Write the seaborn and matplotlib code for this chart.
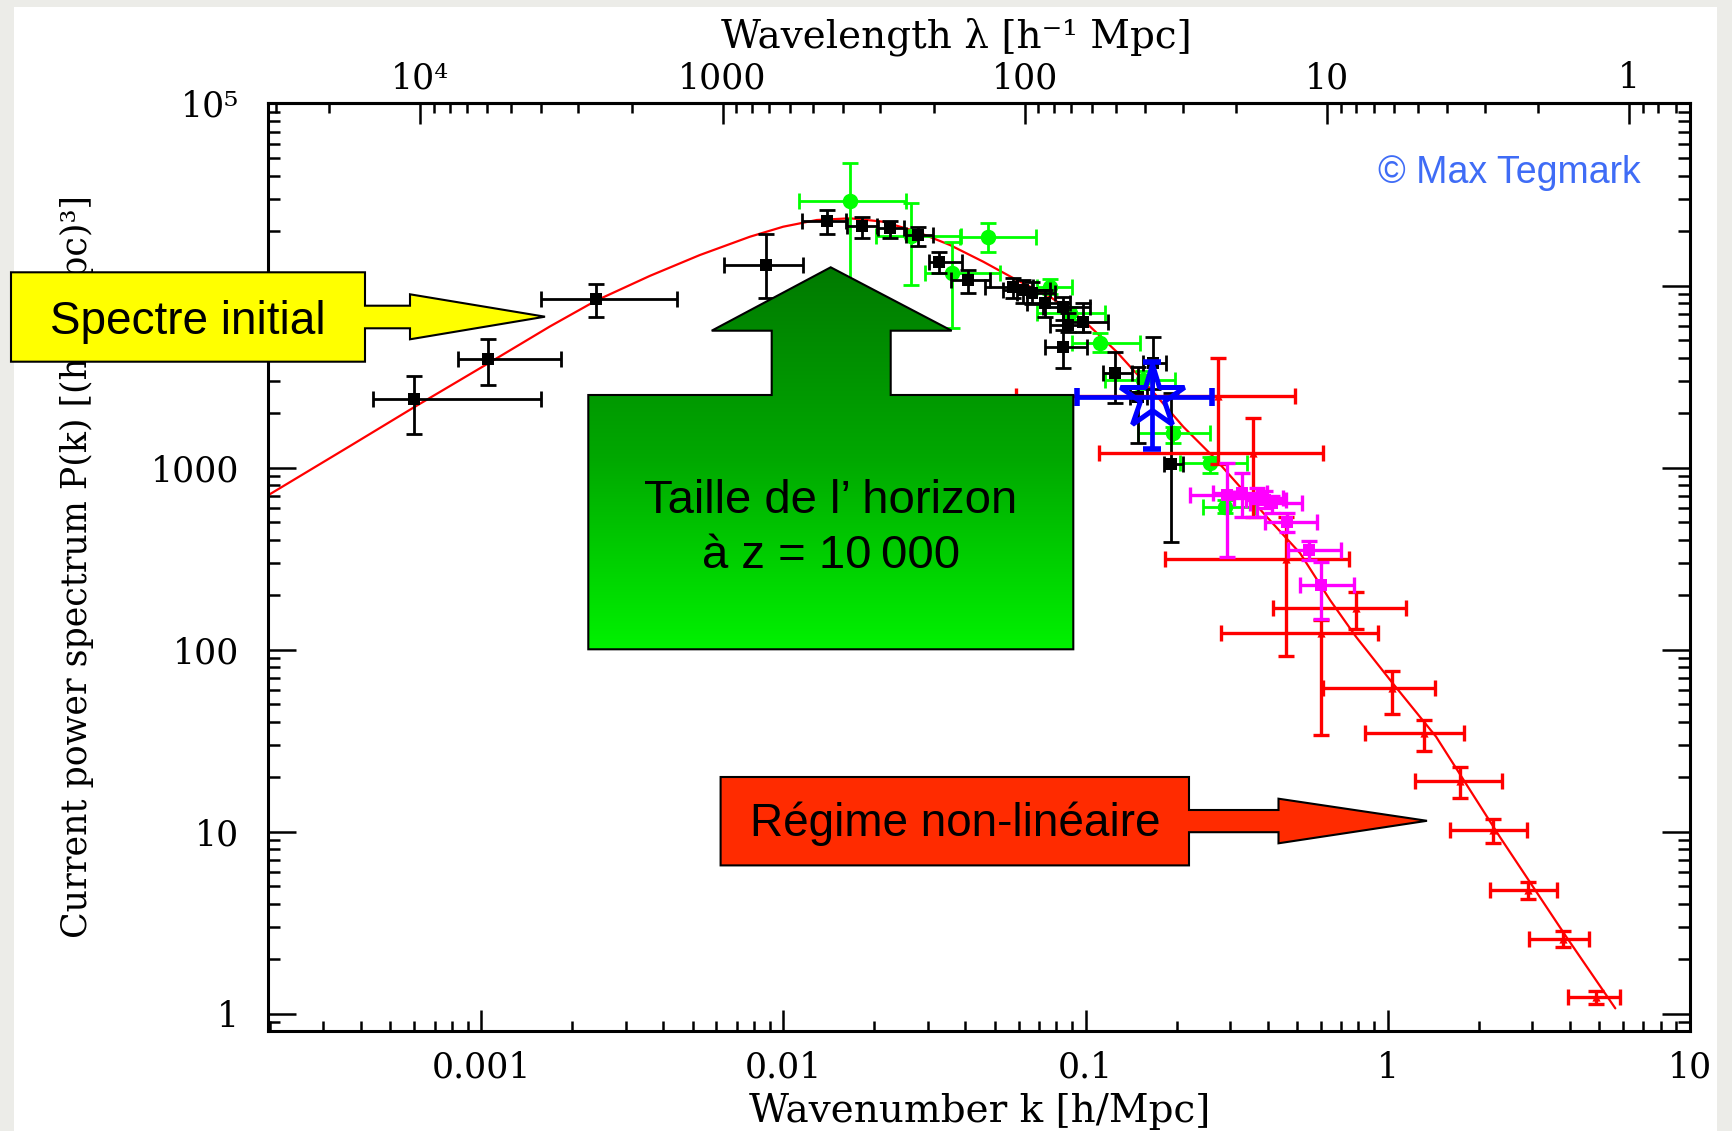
import numpy as np
import pandas as pd
import matplotlib
matplotlib.use("Agg")
import matplotlib.pyplot as plt
import seaborn as sns
from matplotlib.ticker import LogLocator, FixedLocator, FixedFormatter, NullFormatter
from matplotlib.patches import Polygon, Rectangle
from matplotlib.colors import LinearSegmentedColormap

# ---------------- data ----------------
model_k = [1.968e-4, 3.673e-4, 5.977e-4, 1.054e-3, 1.687e-3, 2.393e-3, 3.614e-3, 5.284e-3,
           7.745e-3, 9.977e-3, 0.01288, 0.0166, 0.02138, 0.02761, 0.03556, 0.04581, 0.05916,
           0.07621, 0.09817, 0.1266, 0.1633, 0.2104, 0.2646, 0.3243, 0.3972, 0.5129, 0.6442,
           0.7852, 1.039, 1.445, 2.348, 3.899, 5.665]
model_P = [704, 1312, 2140, 3736, 5960, 8250, 11300, 14700, 18540, 21040, 22900, 23400, 22420,
           19760, 16690, 13520, 10720, 8680, 6460, 4330, 2724, 1676, 1146, 784, 537, 338, 187,
           117.5, 65.2, 33.2, 9.36, 2.64, 1.068]

black_k = [5.98e-4, 1.053e-3, 2.39e-3, 8.74e-3, 0.01395, 0.01822, 0.0225, 0.0278, 0.03269,
           0.04088, 0.0576, 0.0621, 0.0663, 0.0733, 0.0843, 0.0876, 0.0982, 0.0843, 0.1251,
           0.1493, 0.1674, 0.1915]
black_P = [2371, 3931, 8433, 12970, 22700, 21230, 20620, 18880, 13520, 10720, 9850, 9440, 9060,
           7980, 7650, 6070, 6330, 4610, 3294, 2450, 3737, 1041]
black_k_lo = [4.39e-4, 8.38e-4, 1.58e-3, 6.35e-3, 0.01148, 0.01618, 0.02057, 0.02542, 0.03036,
              0.0358, 0.0464, 0.0532, 0.0591, 0.0638, 0.0725, 0.0762, 0.0843, 0.0733, 0.1143,
              0.140, 0.155, 0.182]
black_k_hi = [1.57e-3, 1.83e-3, 4.45e-3, 1.16e-2, 0.01605, 0.02033, 0.02504, 0.03118, 0.03904,
              0.04819, 0.0671, 0.0762, 0.0791, 0.0888, 0.1033, 0.0982, 0.1188, 0.1008, 0.142,
              0.160, 0.185, 0.210]
black_P_lo = [1528, 2840, 6740, 8500, 19100, 18320, 18170, 16480, 11670, 9130, 8510, 7980, 7900,
              6740, 6460, 5570, 5570, 3510, 2254, 1358, 2690, 391]
black_P_hi = [3184, 5063, 10230, 19100, 26000, 23880, 22700, 21040, 15210, 12170, 10960, 10720,
              10400, 9440, 8680, 7030, 7980, 5690, 4330, 3580, 5190, 2560]

green_k = [0.0166, 0.02641, 0.0476, 0.0360, 0.0762, 0.0887, 0.1115, 0.1551, 0.1950, 0.2578, 0.29]
green_P = [29120, 18700, 18540, 11670, 9850, 7030, 4850, 3027, 1542, 1054, 609]
green_k_lo = [0.01127, 0.0202, 0.0384, 0.0294, 0.0689, 0.0689, 0.0899, 0.1159, 0.1493, 0.205, 0.2455]
green_k_hi = [0.02535, 0.0388, 0.0685, 0.0520, 0.0899, 0.1159, 0.1513, 0.1975, 0.2578, 0.341, 0.3597]
green_P_lo = [8000, 10070, 15340, 5820, 9000, 6500, 4330, 2700, 1358, 929, 560]
green_P_hi = [47300, 28300, 21980, 17400, 10800, 7600, 5460, 3400, 1676, 1146, 665]

red_k = [0.2749, 0.3588, 0.460, 0.7845, 0.601, 1.030, 1.318, 1.734, 2.224, 2.904, 3.81, 4.89]
red_P = [2480, 1197, 314, 169.7, 122.7, 61.2, 34.6, 19.0, 10.2, 4.77, 2.58, 1.237]
red_k_lo = [0.0587, 0.1109, 0.183, 0.4178, 0.2804, 0.609, 0.841, 1.235, 1.607, 2.179, 2.94, 3.96]
red_k_hi = [0.4933, 0.609, 0.7456, 1.149, 0.926, 1.433, 1.792, 2.397, 2.884, 3.64, 4.65, 5.87]
red_P_lo = [1050, 537, 92, 129.6, 33.9, 44.2, 27.8, 15.2, 8.61, 4.24, 2.33, 1.123]
red_P_hi = [3981, 1863, 537, 208, 146, 76.5, 41.0, 22.5, 11.67, 5.26, 2.84, 1.334]

mag_k = [0.2927, 0.3284, 0.368, 0.392, 0.413, 0.4627, 0.5497, 0.601]
mag_P = [706, 721, 677, 663, 635, 504, 352, 226]
mag_k_lo = [0.2215, 0.265, 0.31, 0.34, 0.35, 0.392, 0.469, 0.512]
mag_k_hi = [0.368, 0.398, 0.45, 0.46, 0.52, 0.5816, 0.698, 0.773]
mag_P_lo = [321, 537, 537, 600, 560, 444, 310, 146.5]
mag_P_hi = [1062, 929, 769, 740, 700, 560, 396, 303]

blue_k = [0.1654]
blue_P = [2450]
blue_k_lo = [0.0933]
blue_k_hi = [0.2624]
blue_P_lo = [1264]
blue_P_hi = [3813]

x_ticks = [0.001, 0.01, 0.1, 1, 10]
x_tick_labels = ["0.001", "0.01", "0.1", "1", "10"]
y_ticks = [1, 10, 100, 1000, 1e4, 1e5]
y_tick_labels = ["1", "10", "100", "1000", "10\u2074", "10\u2075"]
lam_ticks = [1e4, 1000, 100, 10, 1]
lam_tick_labels = ["10\u2074", "1000", "100", "10", "1"]

x_label = "Wavenumber k [h/Mpc]"
y_label = "Current power spectrum P(k) [(h\u207b\u00b9 Mpc)\u00b3]"
top_label = "Wavelength \u03bb [h\u207b\u00b9 Mpc]"

# ---------------- figure ----------------
W, H = 1733, 1131
sns.set_theme(style="ticks")
plt.rcParams["font.family"] = ["DejaVu Serif", "DejaVu Sans"]
plt.rcParams["text.color"] = "black"
plt.rcParams["axes.labelcolor"] = "black"
plt.rcParams["xtick.color"] = "black"
plt.rcParams["ytick.color"] = "black"
plt.rcParams["axes.edgecolor"] = "black"

fig = plt.figure(figsize=(W / 100, H / 100), dpi=100, facecolor="white")
ax = fig.add_axes([0.15476, 0.08824, 0.82036, 0.82025])
ax.set_facecolor("white")
ax.set_xscale("log")
ax.set_yscale("log")

# model curve
sns.lineplot(x=model_k, y=model_P, color="#FF0000", linewidth=1.6, ax=ax,
             sort=False, estimator=None, zorder=2)


def draw_set(k, P, klo, khi, plo, phi, color, marker, size, z, lw=2.0, cap=5.5):
    k = np.asarray(k, float); P = np.asarray(P, float)
    klo = np.asarray(klo, float); khi = np.asarray(khi, float)
    plo = np.asarray(plo, float); phi = np.asarray(phi, float)
    ax.errorbar(k, P, xerr=[k - klo, khi - k], yerr=[P - plo, phi - P], fmt="none",
                ecolor=color, elinewidth=lw, capsize=cap, capthick=lw, zorder=z)
    sns.scatterplot(x=k, y=P, marker=marker, s=size, color=color, edgecolor=color,
                    linewidth=0, ax=ax, zorder=z + 0.5, legend=False)


draw_set(green_k, green_P, green_k_lo, green_k_hi, green_P_lo, green_P_hi, "#00FF00", "o", 125, 3)
draw_set(black_k, black_P, black_k_lo, black_k_hi, black_P_lo, black_P_hi, "#000000", "s", 80, 4)
draw_set(red_k, red_P, red_k_lo, red_k_hi, red_P_lo, red_P_hi, "#FF0000", "^", 35, 5, lw=2.4)
draw_set(mag_k, mag_P, mag_k_lo, mag_k_hi, mag_P_lo, mag_P_hi, "#FF00FF", "s", 65, 6, lw=2.4)

bk = np.asarray(blue_k); bp = np.asarray(blue_P)
ax.errorbar(bk, bp, xerr=[bk - np.asarray(blue_k_lo), np.asarray(blue_k_hi) - bk],
            yerr=[bp - np.asarray(blue_P_lo), np.asarray(blue_P_hi) - bp], fmt="none",
            ecolor="#0000FF", elinewidth=3.4, capsize=6.5, capthick=4, zorder=8)
ax.plot(bk, bp, linestyle="none", marker="*", ms=48, mfc="none", mec="#0000FF", mew=3.6, zorder=8.5)

ax.set_xlim(1.97e-4, 10)
ax.set_ylim(0.8, 1e5)

# ticks
ax.xaxis.set_major_locator(FixedLocator(x_ticks))
ax.xaxis.set_major_formatter(FixedFormatter(x_tick_labels))
ax.xaxis.set_minor_locator(LogLocator(base=10, subs=np.arange(2, 10), numticks=100))
ax.xaxis.set_minor_formatter(NullFormatter())
ax.yaxis.set_major_locator(FixedLocator(y_ticks))
ax.yaxis.set_major_formatter(FixedFormatter(y_tick_labels))
ax.yaxis.set_minor_locator(LogLocator(base=10, subs=np.arange(2, 10), numticks=100))
ax.yaxis.set_minor_formatter(NullFormatter())

ax.tick_params(axis="x", which="major", direction="in", length=15, width=1.8,
               labelsize=25, pad=14, top=False, bottom=True)
ax.tick_params(axis="x", which="minor", direction="in", length=7, width=1.8, top=False, bottom=True)
ax.tick_params(axis="y", which="major", direction="in", length=20, width=1.8,
               labelsize=25, pad=21, left=True, right=True)
ax.tick_params(axis="y", which="minor", direction="in", length=8.5, width=1.8, left=True, right=True)
for s in ax.spines.values():
    s.set_linewidth(2.2)
    s.set_color("black")


def k2lam(k):
    k = np.asarray(k, float)
    with np.errstate(divide="ignore", invalid="ignore"):
        return 2 * np.pi / k


sec = ax.secondary_xaxis("top", functions=(k2lam, k2lam))
sec.xaxis.set_major_locator(FixedLocator(lam_ticks))
sec.xaxis.set_major_formatter(FixedFormatter(lam_tick_labels))
sec.xaxis.set_minor_locator(LogLocator(base=10, subs=np.arange(2, 10), numticks=100))
sec.xaxis.set_minor_formatter(NullFormatter())
sec.tick_params(axis="x", which="major", direction="in", length=15, width=1.8, labelsize=25, pad=6)
sec.tick_params(axis="x", which="minor", direction="in", length=7, width=1.8)
sec.spines["top"].set_linewidth(2.2)

ax.set_xlabel(x_label, fontsize=28)
ax.xaxis.set_label_coords(0.5003, -0.0665)
ax.set_ylabel(y_label, fontsize=25)
ax.yaxis.set_label_coords(-0.1225, 0.501)
# top axis title (placed relative to the main axes box)
ax.text(0.4838, 1.0515, top_label, transform=ax.transAxes, ha="center", va="bottom", fontsize=28)

ax.text(0.9656, 0.9138, "\u00a9 Max Tegmark", transform=ax.transAxes, ha="right", va="baseline",
        color="#3F6CF6", fontsize=27, family=["Liberation Sans", "DejaVu Sans"])

# ---------------- callouts (overlay in figure pixels) ----------------
ov = fig.add_axes([0, 0, 1, 1], zorder=10)
ov.set_xlim(0, W)
ov.set_ylim(H, 0)
ov.axis("off")

frame_col = "#ECECE8"
ov.add_patch(Rectangle((0, 0), 14, H, color=frame_col, lw=0, zorder=0))
ov.add_patch(Rectangle((0, 0), W, 7, color=frame_col, lw=0, zorder=0))
ov.add_patch(Rectangle((W - 16, 0), 16, H, color=frame_col, lw=0, zorder=0))

sans = ["Liberation Sans", "DejaVu Sans"]

yellow_shape = [(11, 272.3), (365, 272.3), (365, 305.7), (410, 305.7), (410, 294.3), (545, 316.7),
                (410, 339.3), (410, 328.3), (365, 328.3), (365, 361.7), (11, 361.7)]
ov.add_patch(Polygon(yellow_shape, closed=True, facecolor="#FFFF00", edgecolor="black", lw=1.5, zorder=2))
ov.text(188, 334, "Spectre initial", ha="center", va="baseline", fontsize=33, family=sans, zorder=3)

green_shape = [(830.7, 267.3), (951.7, 330.7), (890.7, 330.7), (890.7, 395), (1073.3, 395),
               (1073.3, 649.3), (588.3, 649.3), (588.3, 395), (771.7, 395), (771.7, 330.7),
               (711.7, 330.7)]
gpoly = Polygon(green_shape, closed=True, facecolor="none", edgecolor="black", lw=1.5, zorder=2.5)
ov.add_patch(gpoly)
gcmap = LinearSegmentedColormap.from_list("g", ["#007A00", "#00A800", "#00F200"])
grad = np.linspace(0, 1, 256).reshape(-1, 1)
im = ov.imshow(grad, extent=[588, 1074, 650, 266], cmap=gcmap, aspect="auto", zorder=2,
               origin="upper", interpolation="bilinear")
im.set_clip_path(gpoly)
ov.text(830.8, 513.3, "Taille de l\u2019 horizon", ha="center", va="baseline", fontsize=34,
        family=sans, zorder=3)
ov.text(830.8, 568.3, "\u00e0 z = 10\u2009000", ha="center", va="baseline", fontsize=34,
        family=sans, zorder=3)

red_shape = [(720.6, 777), (1189, 777), (1189, 810), (1278.5, 810), (1278.5, 798.7), (1427, 820.8),
             (1278.5, 843.3), (1278.5, 832.2), (1189, 832.2), (1189, 865.4), (720.6, 865.4)]
ov.add_patch(Polygon(red_shape, closed=True, facecolor="#FF2B00", edgecolor="black", lw=1.5, zorder=2))
ov.text(954.8, 836.5, "R\u00e9gime non-lin\u00e9aire", ha="center", va="baseline", fontsize=33,
        family=sans, zorder=3)

ov.set_xlim(0, W)
ov.set_ylim(H, 0)

fig.savefig("out.png", dpi=100, facecolor="white")
